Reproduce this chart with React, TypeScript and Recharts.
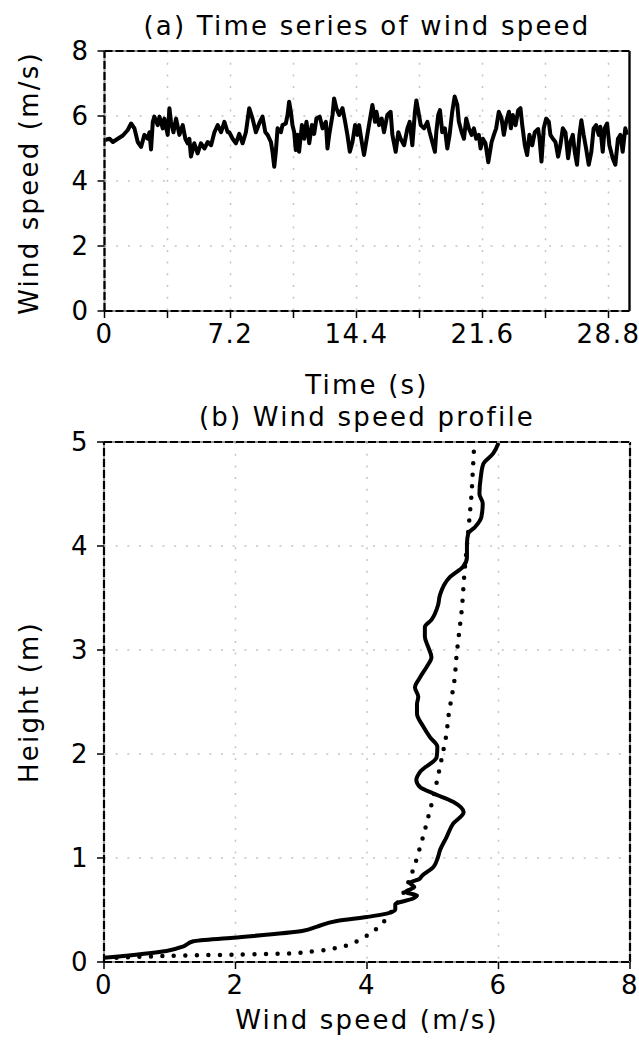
import { LineChart, Line, XAxis, YAxis, CartesianGrid, ReferenceLine } from 'recharts'

// (a) wind speed time series
const seriesTime = [
  0, 0.29, 0.48, 0.76, 1.05, 1.33, 1.52, 1.71, 1.9, 2.09, 2.28, 2.47, 2.57, 2.66, 2.76, 2.85,
  3.04, 3.14, 3.33, 3.42, 3.61, 3.71, 3.8, 3.94, 4.09, 4.28, 4.47, 4.62, 4.75, 4.85, 4.94,
  5.13, 5.32, 5.51, 5.71, 5.9, 6.09, 6.28, 6.47, 6.66, 6.85, 7.04,
  7.13, 7.32, 7.51, 7.7, 7.89, 8.08, 8.27, 8.46, 8.65, 8.84, 9.03, 9.19, 9.32, 9.51, 9.6,
  9.7, 9.79, 9.89, 10.08, 10.17, 10.36, 10.46, 10.55, 10.65, 10.74, 10.84, 10.93, 11.03,
  11.12, 11.28, 11.41, 11.54, 11.7, 11.85, 11.98, 12.11, 12.3, 12.46, 12.65, 12.74, 12.84,
  13.03, 13.12, 13.25, 13.41, 13.6, 13.75, 13.88, 14.02, 14.17, 14.32, 14.45,
  14.55, 14.7, 14.83, 15.02, 15.21, 15.31, 15.46, 15.54, 15.69, 15.84, 15.97, 16.16, 16.35,
  16.45, 16.64, 16.79, 16.92, 17.12, 17.31, 17.44, 17.59, 17.74, 17.82, 17.97, 18.07, 18.26,
  18.45, 18.58, 18.73, 18.88, 18.96, 19.07, 19.17, 19.3, 19.45, 19.59, 19.72, 19.87, 20.01,
  20.16, 20.25, 20.41, 20.54, 20.67, 20.82, 20.98, 21.11, 21.24, 21.39, 21.49, 21.62, 21.77,
  21.93, 22.12, 22.25, 22.38, 22.53, 22.69, 22.82, 22.95, 23.11, 23.22, 23.33, 23.49, 23.64,
  23.77, 23.87, 24.02, 24.15, 24.28, 24.44, 24.59, 24.78, 24.86, 24.97, 25.1, 25.24, 25.39,
  25.48, 25.62, 25.77, 25.92, 26.05, 26.19, 26.34, 26.49, 26.62, 26.76, 26.87, 27.0, 27.14,
  27.25, 27.38, 27.52, 27.67, 27.82, 27.95, 28.09, 28.24, 28.33, 28.47, 28.58, 28.72, 28.85,
  29.04, 29.19, 29.34, 29.48, 29.61, 29.76, 29.86,
]
const seriesSpeed = [
  5.26, 5.3, 5.2, 5.3, 5.4, 5.57, 5.77, 5.62, 5.2, 5.05, 5.42, 5.3, 5.5, 4.97, 5.82, 5.98,
  5.72, 5.98, 5.62, 5.92, 5.42, 6.24, 5.82, 5.5, 5.92, 5.42, 5.72, 5.3, 5.16, 5.3, 4.75,
  5.16, 4.85, 5.16, 5.0, 5.2, 5.1, 5.5, 5.72, 5.5, 5.82, 5.5,
  5.5, 5.3, 5.16, 5.45, 5.16, 5.5, 6.24, 5.92, 5.5, 5.77, 5.98, 5.5, 5.42, 5.2, 4.9,
  4.44, 4.9, 5.62, 5.5, 5.72, 5.77, 6.03, 6.44, 6.13, 5.72, 5.5, 4.95, 5.42,
  4.9, 5.72, 5.3, 5.82, 5.16, 5.72, 5.45, 5.92, 5.98, 5.62, 5.82, 5.0, 5.42,
  6.03, 6.54, 6.24, 6.03, 6.24, 5.82, 5.42, 4.9, 5.2, 5.72, 5.42,
  5.72, 5.2, 4.8, 5.42, 6.03, 6.34, 5.82, 6.13, 5.72, 5.92, 5.5, 6.03, 6.13,
  5.42, 4.9, 5.5, 5.3, 5.1, 5.62, 5.82, 5.1, 6.13, 6.48, 6.03, 5.72, 5.62,
  5.82, 5.5, 5.2, 4.9, 5.5, 6.03, 6.18, 5.5, 5.62, 5.0, 5.42, 6.13, 6.6,
  6.34, 5.82, 5.5, 5.3, 5.92, 5.62, 5.42, 5.62, 5.3, 5.42, 5.0, 5.3, 5.16,
  4.58, 5.2, 5.42, 5.62, 6.13, 5.92, 5.42, 5.82, 6.13, 5.62, 6.03, 5.72, 6.18,
  6.24, 5.72, 5.1, 4.8, 5.42, 5.1, 5.5, 5.6, 5.3, 4.6, 5.62, 5.92, 5.82,
  5.42, 5.3, 5.2, 4.75, 5.1, 5.62, 5.5, 4.7, 5.2, 5.42, 4.9, 4.5, 5.42,
  5.87, 5.42, 5.0, 4.5, 4.9, 5.62, 5.72, 5.42, 5.67, 4.9, 5.62, 5.77, 5.1,
  4.7, 4.5, 5.3, 5.42, 4.9, 5.62, 5.42,
]
const timeTicks = [0, 3.6, 7.2, 10.8, 14.4, 18, 21.6, 25.2, 28.8]
const timeLabels = ['0', '7.2', '14.4', '21.6', '28.8']
const speedTicks = [0, 2, 4, 6, 8]

// (b) wind speed profile: measured (solid) and log-law fit (dotted)
const profileHeight = [
  0.04, 0.106, 0.151, 0.2, 0.234, 0.3, 0.337, 0.394, 0.433, 0.465, 0.504, 0.555, 0.61, 0.64,
  0.673, 0.72, 0.76, 0.8, 0.824, 0.914, 1.01, 1.074, 1.2, 1.33, 1.44, 1.54, 1.62, 1.68, 1.75,
  1.83, 1.97, 2.07, 2.16, 2.26, 2.39, 2.48, 2.55, 2.64, 2.74, 2.84, 2.93, 3.03, 3.13, 3.22,
  3.29, 3.43, 3.53, 3.7, 3.8, 3.89, 4.02, 4.12, 4.18, 4.28, 4.41, 4.5, 4.66, 4.79, 4.89, 4.99,
]
const profileSpeed = [
  0.0, 0.95, 1.21, 1.36, 1.97, 3.03, 3.23, 3.54, 4.0, 4.3, 4.43, 4.43, 4.7, 4.76,
  4.58, 4.72, 4.65, 4.8, 4.83, 5.01, 5.08, 5.11, 5.21, 5.31, 5.47, 5.31, 5.01, 4.81, 4.75,
  4.81, 5.06, 5.07, 4.96, 4.86, 4.76, 4.76, 4.78, 4.73, 4.81, 4.91, 4.98, 4.93, 4.88, 4.88,
  4.98, 5.08, 5.11, 5.26, 5.46, 5.52, 5.52, 5.54, 5.64, 5.74, 5.76, 5.71, 5.73, 5.77, 5.92, 6.0,
]
const fitHeight = [
  0.042, 0.058, 0.071, 0.08, 0.106, 0.144, 0.234, 0.385, 0.51, 0.66, 0.85, 1.11, 1.39, 1.59,
  1.97, 2.2, 2.37, 2.52, 2.71, 2.93, 3.16, 3.38, 3.72, 4.28, 4.5, 4.73, 4.97,
]
const fitSpeed = [
  0.19, 0.95, 1.97, 2.73, 3.23, 3.59, 3.94, 4.25, 4.4, 4.55, 4.68, 4.81, 4.93, 5.01,
  5.14, 5.21, 5.24, 5.28, 5.33, 5.36, 5.4, 5.44, 5.48, 5.56, 5.59, 5.61, 5.63,
]
const profileSpeedTicks = [0, 2, 4, 6, 8]
const heightTicks = [0, 1, 2, 3, 4, 5]

const seriesRows = seriesTime.map((t, i) => ({ t, v: seriesSpeed[i] }))
const profileRows = profileHeight.map((z, i) => ({ z, u: profileSpeed[i] }))
const fitRows = fitHeight.map((z, i) => ({ z, u: fitSpeed[i] }))

const FONT = '"DejaVu Sans", sans-serif'
const tickStyle = { fontSize: 26, fill: '#000', fontFamily: FONT, letterSpacing: 1.5 }
const gridColor = '#c4c4c4'

// dashed black frame laid over a light grey line
function frame(xs: [number, number], ys: [number, number], solidRight = false) {
  const lines = []
  for (const x of xs) {
    const solid = solidRight && x === xs[1]
    lines.push(<ReferenceLine key={'gx' + x} x={x} stroke="#999" strokeWidth={2} />)
    lines.push(
      <ReferenceLine key={'x' + x} x={x} stroke="#000" strokeWidth={2.2} strokeDasharray={solid ? undefined : '8 3'} />
    )
  }
  for (const y of ys) {
    lines.push(<ReferenceLine key={'gy' + y} y={y} stroke="#999" strokeWidth={2} />)
    lines.push(<ReferenceLine key={'y' + y} y={y} stroke="#000" strokeWidth={2.2} strokeDasharray="8 3" />)
  }
  return lines
}

function TimeSeriesPanel() {
  return (
    <LineChart
      width={639}
      height={360}
      data={seriesRows}
      margin={{ top: 51, right: 9.5, bottom: 19, left: 44.5 }}
    >
      <CartesianGrid stroke={gridColor} strokeWidth={1.5} strokeDasharray="2 9.7" />
      <XAxis
        dataKey="t"
        type="number"
        domain={[0, 30]}
        ticks={timeTicks}
        interval={0}
        tickFormatter={(v: number) => (timeLabels.includes(String(v)) ? String(v) : '')}
        axisLine={false}
        tickLine={{ stroke: '#000', strokeWidth: 1.5 }}
        tickSize={7}
        tickMargin={7}
        height={30}
        tick={tickStyle}
      />
      <YAxis
        type="number"
        domain={[0, 8]}
        ticks={speedTicks}
        interval={0}
        axisLine={false}
        tickLine={{ stroke: '#000', strokeWidth: 1.5 }}
        tickSize={7}
        tickMargin={8}
        width={60}
        tick={tickStyle}
      />
      <Line
        dataKey="v"
        type="linear"
        stroke="#000"
        strokeWidth={4}
        strokeLinejoin="round"
        dot={false}
        isAnimationActive={false}
      />
      {frame([0, 30], [0, 8], true)}
    </LineChart>
  )
}

function ProfilePanel() {
  return (
    <LineChart
      layout="vertical"
      width={639}
      height={642}
      margin={{ top: 42, right: 9, bottom: 50, left: 44 }}
    >
      <CartesianGrid stroke={gridColor} strokeWidth={1.5} strokeDasharray="2 9.7" />
      <XAxis
        type="number"
        domain={[0, 8]}
        ticks={profileSpeedTicks}
        interval={0}
        axisLine={false}
        tickLine={{ stroke: '#000', strokeWidth: 1.5 }}
        tickSize={7}
        tickMargin={7}
        height={30}
        tick={tickStyle}
      />
      <YAxis
        type="number"
        dataKey="z"
        domain={[0, 5]}
        reversed
        ticks={heightTicks}
        interval={0}
        axisLine={false}
        tickLine={{ stroke: '#000', strokeWidth: 1.5 }}
        tickSize={7}
        tickMargin={8}
        width={60}
        tick={tickStyle}
      />
      <Line
        data={fitRows}
        dataKey="u"
        type="monotone"
        stroke="#000"
        strokeWidth={4.5}
        strokeDasharray="0 11.5"
        strokeLinecap="round"
        dot={false}
        isAnimationActive={false}
      />
      <Line
        data={profileRows}
        dataKey="u"
        type="monotone"
        stroke="#000"
        strokeWidth={4}
        strokeLinejoin="round"
        dot={false}
        isAnimationActive={false}
      />
      {frame([0, 8], [0, 5])}
    </LineChart>
  )
}

export default function App() {
  const text = { fontFamily: FONT, fontSize: 26, letterSpacing: 2.2, fill: '#000' }
  return (
    <div style={{ position: 'absolute', left: 0, top: 0, width: 639, height: 1042, background: '#fff' }}>
      <div style={{ position: 'absolute', left: 0, top: 0 }}>
        <TimeSeriesPanel />
      </div>
      <div style={{ position: 'absolute', left: 0, top: 400 }}>
        <ProfilePanel />
      </div>
      <svg width={639} height={1042} style={{ position: 'absolute', left: 0, top: 0, pointerEvents: 'none' }}>
        <text x={367} y={35} textAnchor="middle" {...text}>(a) Time series of wind speed</text>
        <text transform="translate(38,183) rotate(-90)" textAnchor="middle" {...text}>Wind speed (m/s)</text>
        <text x={367} y={394} textAnchor="middle" {...text}>Time (s)</text>
        <text x={367} y={426} textAnchor="middle" {...text}>(b) Wind speed profile</text>
        <text transform="translate(38,702) rotate(-90)" textAnchor="middle" {...text}>Height (m)</text>
        <text x={367} y={1029} textAnchor="middle" {...text}>Wind speed (m/s)</text>
      </svg>
    </div>
  )
}
